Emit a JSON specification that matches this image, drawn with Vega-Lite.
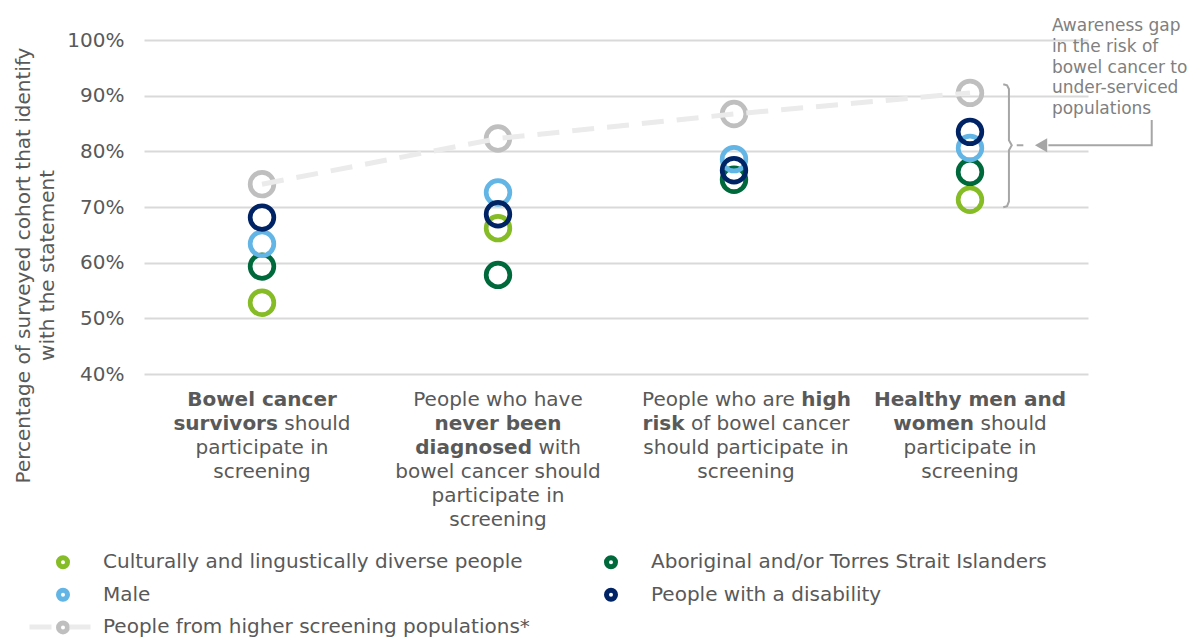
{
  "$schema": "https://vega.github.io/schema/vega-lite/v6.json",
  "width": 944,
  "height": 334,
  "autosize": {"type": "none"},
  "padding": {"left": 144, "top": 40, "right": 105, "bottom": 263},
  "background": "white",
  "config": {"view": {"stroke": null}, "font": "DejaVu Sans"},
  "datasets": {
    "pts": [
      {"i": 0, "v": 52.8, "s": "Culturally and lingustically diverse people"},
      {"i": 1, "v": 66.2, "s": "Culturally and lingustically diverse people"},
      {"i": 3, "v": 71.3, "s": "Culturally and lingustically diverse people"},
      {"i": 0, "v": 59.3, "s": "Aboriginal and/or Torres Strait Islanders"},
      {"i": 1, "v": 57.8, "s": "Aboriginal and/or Torres Strait Islanders"},
      {"i": 2, "v": 74.9, "s": "Aboriginal and/or Torres Strait Islanders"},
      {"i": 3, "v": 76.3, "s": "Aboriginal and/or Torres Strait Islanders"},
      {"i": 0, "v": 63.4, "s": "Male"},
      {"i": 1, "v": 72.6, "s": "Male"},
      {"i": 2, "v": 78.6, "s": "Male"},
      {"i": 3, "v": 80.6, "s": "Male"},
      {"i": 0, "v": 68.1, "s": "People with a disability"},
      {"i": 1, "v": 68.7, "s": "People with a disability"},
      {"i": 2, "v": 76.6, "s": "People with a disability"},
      {"i": 3, "v": 83.5, "s": "People with a disability"},
      {"i": 0, "v": 74.1, "s": "People from higher screening populations*"},
      {"i": 1, "v": 82.3, "s": "People from higher screening populations*"},
      {"i": 2, "v": 86.7, "s": "People from higher screening populations*"},
      {"i": 3, "v": 90.5, "s": "People from higher screening populations*"}
    ],
    "bracket": [
      {"i": 3.141, "v": 92.04, "seg": "b", "o": 0},
      {"i": 3.157, "v": 91.85, "seg": "b", "o": 1},
      {"i": 3.165, "v": 91.2, "seg": "b", "o": 2},
      {"i": 3.165, "v": 82.0, "seg": "b", "o": 3},
      {"i": 3.177, "v": 81.09, "seg": "b", "o": 4},
      {"i": 3.165, "v": 80.2, "seg": "b", "o": 5},
      {"i": 3.165, "v": 71.0, "seg": "b", "o": 6},
      {"i": 3.157, "v": 70.15, "seg": "b", "o": 7},
      {"i": 3.141, "v": 69.95, "seg": "b", "o": 8},
      {"i": 3.198, "v": 81.09, "seg": "t", "o": 0},
      {"i": 3.226, "v": 81.09, "seg": "t", "o": 1},
      {"i": 3.770, "v": 85.63, "seg": "a", "o": 0},
      {"i": 3.770, "v": 81.09, "seg": "a", "o": 1},
      {"i": 3.332, "v": 81.09, "seg": "a", "o": 2}
    ],
    "labReg": [
      {"i": 0, "ln": 2, "t": "participate in"},
      {"i": 0, "ln": 3, "t": "screening"},
      {"i": 1, "ln": 0, "t": "People who have"},
      {"i": 1, "ln": 3, "t": "bowel cancer should"},
      {"i": 1, "ln": 4, "t": "participate in"},
      {"i": 1, "ln": 5, "t": "screening"},
      {"i": 3, "ln": 2, "t": "participate in"},
      {"i": 3, "ln": 3, "t": "screening"}
    ],
    "labReg3": [
      {"i": 2, "ln": 2, "t": "should participate in"},
      {"i": 2, "ln": 3, "t": "screening"}
    ],
    "labBold": [
      {"i": 0, "ln": 0, "t": "Bowel cancer"},
      {"i": 1, "ln": 1, "t": "never been"},
      {"i": 3, "ln": 0, "t": "Healthy men and"}
    ]
  },
  "layer": [
    {
      "layer": [
        {
          "data": {"name": "pts"},
          "mark": {"type": "point", "filled": false, "size": 560, "strokeWidth": 4.7, "opacity": 1},
          "encoding": {
            "x": {"field": "i", "type": "quantitative", "scale": {"domain": [-0.5, 3.5], "nice": false, "zero": false}, "axis": null},
            "y": {
              "field": "v", "type": "quantitative",
              "scale": {"domain": [40, 100], "nice": false, "zero": false},
              "axis": {
                "values": [40, 50, 60, 70, 80, 90, 100],
                "labelExpr": "datum.value + '%'",
                "title": ["Percentage of surveyed cohort that identify", "with the statement"],
                "titleFontSize": 20, "titleFontWeight": "normal", "titleColor": "#595959", "titleFont": "DejaVu Sans",
                "titleX": -115, "titleY": 225, "titleBaseline": "alphabetic", "titleLineHeight": 24, "titleAngle": 270,
                "labelFontSize": 20, "labelColor": "#595959", "labelFont": "DejaVu Sans", "labelPadding": 20,
                "domain": false, "ticks": false, "grid": true, "gridColor": "#d9d9d9", "gridWidth": 2
              }
            },
            "color": {
              "field": "s", "type": "nominal",
              "scale": {
                "domain": ["Culturally and lingustically diverse people", "Aboriginal and/or Torres Strait Islanders", "Male", "People with a disability", "People from higher screening populations*"],
                "range": ["#86bc25", "#00693c", "#62b5e5", "#002366", "#bfbfbf"]
              },
              "legend": {
                "orient": "none", "legendX": -91, "legendY": 512, "columns": 2, "direction": "horizontal", "title": null,
                "labelFontSize": 20, "labelColor": "#595959", "labelFont": "DejaVu Sans", "labelLimit": 600,
                "symbolSize": 81, "symbolStrokeWidth": 5, "symbolType": "circle", "labelOffset": 30,
                "rowPadding": 2.7, "columnPadding": 66, "padding": 0
              }
            }
          }
        },
        {
          "data": {"name": "pts"},
          "transform": [{"filter": "datum.s === 'People from higher screening populations*'"}],
          "mark": {"type": "line", "color": "#ebebeb", "strokeWidth": 5},
          "encoding": {
            "x": {"field": "i", "type": "quantitative", "scale": {"domain": [-0.5, 3.5], "nice": false, "zero": false}, "axis": null},
            "y": {"field": "v", "type": "quantitative", "scale": {"domain": [40, 100], "nice": false, "zero": false}},
            "strokeDash": {
              "field": "s", "type": "nominal",
              "scale": {"domain": ["People from higher screening populations*"], "range": [[22, 13]]},
              "legend": {
                "orient": "none", "legendX": -117, "legendY": 554, "title": null,
                "symbolType": "M-1,0L-0.15,0M0.31,0L1,0", "symbolSize": 3721, "symbolStrokeWidth": 5,
                "symbolStrokeColor": "#ebebeb", "labelExpr": "''", "labelFontSize": 20, "padding": 0,
                "encode": {"symbols": {"update": {"strokeDash": {"value": [1000, 0]}, "stroke": {"value": "#ebebeb"}, "strokeWidth": {"value": 5}}}}
              }
            }
          }
        },
        {
          "data": {"name": "bracket"},
          "mark": {"type": "line", "color": "#a6a6a6", "strokeWidth": 2},
          "encoding": {
            "x": {"field": "i", "type": "quantitative", "scale": {"domain": [-0.5, 3.5], "nice": false, "zero": false}, "axis": null},
            "y": {"field": "v", "type": "quantitative", "scale": {"domain": [40, 100], "nice": false, "zero": false}},
            "detail": {"field": "seg"},
            "order": {"field": "o", "type": "quantitative"}
          }
        },
        {
          "data": {"values": [{"i": 3.301, "v": 81.09}]},
          "mark": {"type": "point", "shape": "triangle-left", "filled": true, "color": "#a6a6a6", "size": 200, "opacity": 1},
          "encoding": {
            "x": {"field": "i", "type": "quantitative", "scale": {"domain": [-0.5, 3.5], "nice": false, "zero": false}, "axis": null},
            "y": {"field": "v", "type": "quantitative", "scale": {"domain": [40, 100], "nice": false, "zero": false}}
          }
        },
        {
          "data": {"values": [{"i": 3.347, "v": 101.6, "t": "Awareness gap\nin the risk of\nbowel cancer to\nunder-serviced\npopulations"}]},
          "mark": {"type": "text", "align": "left", "baseline": "alphabetic", "fontSize": 17, "lineHeight": 20.75, "lineBreak": "\n", "color": "#808080", "font": "DejaVu Sans"},
          "encoding": {
            "x": {"field": "i", "type": "quantitative", "scale": {"domain": [-0.5, 3.5], "nice": false, "zero": false}, "axis": null},
            "y": {"field": "v", "type": "quantitative", "scale": {"domain": [40, 100], "nice": false, "zero": false}},
            "text": {"field": "t"}
          }
        }
      ]
    },
    {
      "data": {"name": "labReg"},
      "mark": {"type": "text", "fontSize": 20, "font": "DejaVu Sans", "color": "#595959", "align": "center", "baseline": "middle"},
      "encoding": {
        "x": {"field": "i", "type": "quantitative", "scale": {"domain": [-0.5, 3.5], "nice": false, "zero": false}, "axis": null},
        "y": {"field": "ln", "type": "quantitative", "scale": {"domain": [0, 5], "range": [360, 480], "nice": false, "zero": false}, "axis": null},
        "text": {"field": "t"}
      }
    },
    {
      "data": {"name": "labReg3"},
      "mark": {"type": "text", "fontSize": 20, "font": "DejaVu Sans", "color": "#595959", "align": "center", "baseline": "middle", "dx": 12},
      "encoding": {
        "x": {"field": "i", "type": "quantitative", "scale": {"domain": [-0.5, 3.5], "nice": false, "zero": false}, "axis": null},
        "y": {"field": "ln", "type": "quantitative", "scale": {"domain": [0, 5], "range": [360, 480], "nice": false, "zero": false}, "axis": null},
        "text": {"field": "t"}
      }
    },
    {
      "data": {"name": "labBold"},
      "mark": {"type": "text", "fontSize": 20, "font": "DejaVu Sans", "fontWeight": "bold", "color": "#595959", "align": "center", "baseline": "middle"},
      "encoding": {
        "x": {"field": "i", "type": "quantitative", "scale": {"domain": [-0.5, 3.5], "nice": false, "zero": false}, "axis": null},
        "y": {"field": "ln", "type": "quantitative", "scale": {"domain": [0, 5], "range": [360, 480], "nice": false, "zero": false}, "axis": null},
        "text": {"field": "t"}
      }
    },
    {
      "data": {"values": [{"i": 0, "ln": 1, "t": "survivors"}]},
      "mark": {"type": "text", "fontSize": 20, "font": "DejaVu Sans", "fontWeight": "bold", "color": "#595959", "align": "right", "baseline": "middle", "dx": 15.9},
      "encoding": {
        "x": {"field": "i", "type": "quantitative", "scale": {"domain": [-0.5, 3.5], "nice": false, "zero": false}, "axis": null},
        "y": {"field": "ln", "type": "quantitative", "scale": {"domain": [0, 5], "range": [360, 480], "nice": false, "zero": false}, "axis": null},
        "text": {"field": "t"}
      }
    },
    {
      "data": {"values": [{"i": 0, "ln": 1, "t": "should"}]},
      "mark": {"type": "text", "fontSize": 20, "font": "DejaVu Sans", "color": "#595959", "align": "left", "baseline": "middle", "dx": 22.3},
      "encoding": {
        "x": {"field": "i", "type": "quantitative", "scale": {"domain": [-0.5, 3.5], "nice": false, "zero": false}, "axis": null},
        "y": {"field": "ln", "type": "quantitative", "scale": {"domain": [0, 5], "range": [360, 480], "nice": false, "zero": false}, "axis": null},
        "text": {"field": "t"}
      }
    },
    {
      "data": {"values": [{"i": 1, "ln": 2, "t": "diagnosed"}]},
      "mark": {"type": "text", "fontSize": 20, "font": "DejaVu Sans", "fontWeight": "bold", "color": "#595959", "align": "right", "baseline": "middle", "dx": 34.0},
      "encoding": {
        "x": {"field": "i", "type": "quantitative", "scale": {"domain": [-0.5, 3.5], "nice": false, "zero": false}, "axis": null},
        "y": {"field": "ln", "type": "quantitative", "scale": {"domain": [0, 5], "range": [360, 480], "nice": false, "zero": false}, "axis": null},
        "text": {"field": "t"}
      }
    },
    {
      "data": {"values": [{"i": 1, "ln": 2, "t": "with"}]},
      "mark": {"type": "text", "fontSize": 20, "font": "DejaVu Sans", "color": "#595959", "align": "left", "baseline": "middle", "dx": 40.4},
      "encoding": {
        "x": {"field": "i", "type": "quantitative", "scale": {"domain": [-0.5, 3.5], "nice": false, "zero": false}, "axis": null},
        "y": {"field": "ln", "type": "quantitative", "scale": {"domain": [0, 5], "range": [360, 480], "nice": false, "zero": false}, "axis": null},
        "text": {"field": "t"}
      }
    },
    {
      "data": {"values": [{"i": 2, "ln": 0, "t": "People who are"}]},
      "mark": {"type": "text", "fontSize": 20, "font": "DejaVu Sans", "color": "#595959", "align": "right", "baseline": "middle", "dx": 60.9},
      "encoding": {
        "x": {"field": "i", "type": "quantitative", "scale": {"domain": [-0.5, 3.5], "nice": false, "zero": false}, "axis": null},
        "y": {"field": "ln", "type": "quantitative", "scale": {"domain": [0, 5], "range": [360, 480], "nice": false, "zero": false}, "axis": null},
        "text": {"field": "t"}
      }
    },
    {
      "data": {"values": [{"i": 2, "ln": 0, "t": "high"}]},
      "mark": {"type": "text", "fontSize": 20, "font": "DejaVu Sans", "fontWeight": "bold", "color": "#595959", "align": "left", "baseline": "middle", "dx": 67.3},
      "encoding": {
        "x": {"field": "i", "type": "quantitative", "scale": {"domain": [-0.5, 3.5], "nice": false, "zero": false}, "axis": null},
        "y": {"field": "ln", "type": "quantitative", "scale": {"domain": [0, 5], "range": [360, 480], "nice": false, "zero": false}, "axis": null},
        "text": {"field": "t"}
      }
    },
    {
      "data": {"values": [{"i": 2, "ln": 1, "t": "risk"}]},
      "mark": {"type": "text", "fontSize": 20, "font": "DejaVu Sans", "fontWeight": "bold", "color": "#595959", "align": "right", "baseline": "middle", "dx": -49.5},
      "encoding": {
        "x": {"field": "i", "type": "quantitative", "scale": {"domain": [-0.5, 3.5], "nice": false, "zero": false}, "axis": null},
        "y": {"field": "ln", "type": "quantitative", "scale": {"domain": [0, 5], "range": [360, 480], "nice": false, "zero": false}, "axis": null},
        "text": {"field": "t"}
      }
    },
    {
      "data": {"values": [{"i": 2, "ln": 1, "t": "of bowel cancer"}]},
      "mark": {"type": "text", "fontSize": 20, "font": "DejaVu Sans", "color": "#595959", "align": "left", "baseline": "middle", "dx": -43.1},
      "encoding": {
        "x": {"field": "i", "type": "quantitative", "scale": {"domain": [-0.5, 3.5], "nice": false, "zero": false}, "axis": null},
        "y": {"field": "ln", "type": "quantitative", "scale": {"domain": [0, 5], "range": [360, 480], "nice": false, "zero": false}, "axis": null},
        "text": {"field": "t"}
      }
    },
    {
      "data": {"values": [{"i": 3, "ln": 1, "t": "women"}]},
      "mark": {"type": "text", "fontSize": 20, "font": "DejaVu Sans", "fontWeight": "bold", "color": "#595959", "align": "right", "baseline": "middle", "dx": 4.1},
      "encoding": {
        "x": {"field": "i", "type": "quantitative", "scale": {"domain": [-0.5, 3.5], "nice": false, "zero": false}, "axis": null},
        "y": {"field": "ln", "type": "quantitative", "scale": {"domain": [0, 5], "range": [360, 480], "nice": false, "zero": false}, "axis": null},
        "text": {"field": "t"}
      }
    },
    {
      "data": {"values": [{"i": 3, "ln": 1, "t": "should"}]},
      "mark": {"type": "text", "fontSize": 20, "font": "DejaVu Sans", "color": "#595959", "align": "left", "baseline": "middle", "dx": 10.5},
      "encoding": {
        "x": {"field": "i", "type": "quantitative", "scale": {"domain": [-0.5, 3.5], "nice": false, "zero": false}, "axis": null},
        "y": {"field": "ln", "type": "quantitative", "scale": {"domain": [0, 5], "range": [360, 480], "nice": false, "zero": false}, "axis": null},
        "text": {"field": "t"}
      }
    }
  ],
  "resolve": {"scale": {"y": "independent"}}
}
